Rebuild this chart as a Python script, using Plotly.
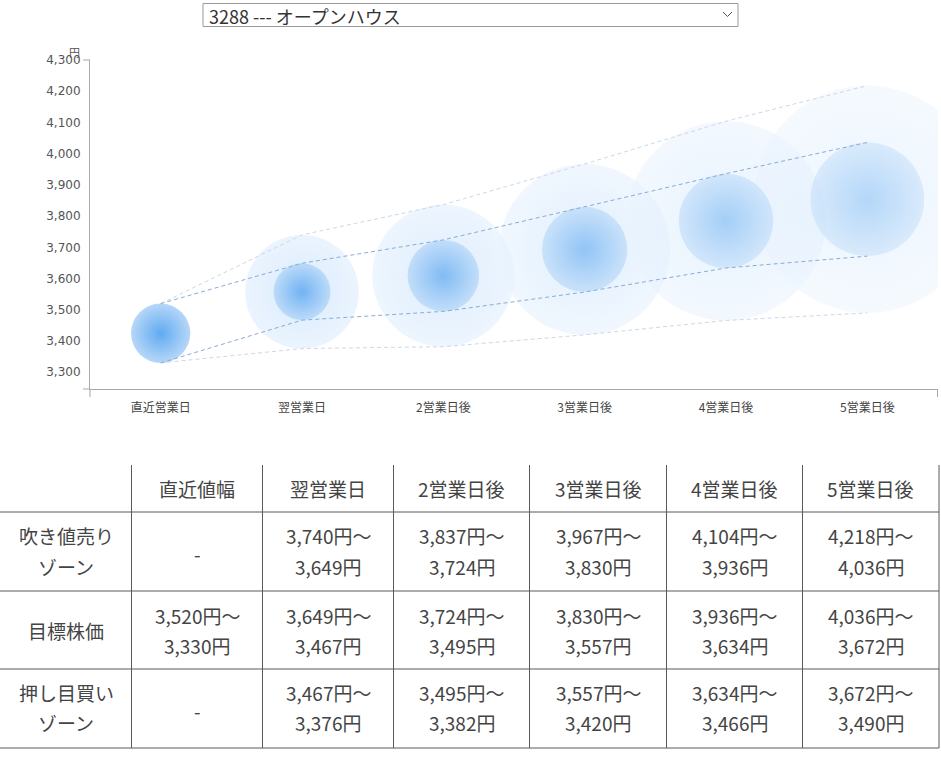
import plotly.graph_objects as go

# ---------------- data ----------------
days = ['直近営業日', '翌営業日', '2営業日後', '3営業日後', '4営業日後', '5営業日後']
table_headers = ['直近値幅', '翌営業日', '2営業日後', '3営業日後', '4営業日後', '5営業日後']
sell_hi = [None, 3740, 3837, 3967, 4104, 4218]
sell_lo = [None, 3649, 3724, 3830, 3936, 4036]
target_hi = [3520, 3649, 3724, 3830, 3936, 4036]
target_lo = [3330, 3467, 3495, 3557, 3634, 3672]
buy_hi = [None, 3467, 3495, 3557, 3634, 3672]
buy_lo = [None, 3376, 3382, 3420, 3466, 3490]
row_labels = [['吹き値売り', 'ゾーン'], ['目標株価'], ['押し目買い', 'ゾーン']]
y_ticks = [3300, 3400, 3500, 3600, 3700, 3800, 3900, 4000, 4100, 4200, 4300]
y_unit = '円'
stock_label = '3288 --- オープンハウス'

# ---------------- layout geometry ----------------
W, H = 941, 758
ML, MR, MT, MB = 90, 3, 60, 369
PW, PH = W - ML - MR, H - MT - MB
Y_MAX = 4300
Y_MIN = 3246.5
ppu = PH / (Y_MAX - Y_MIN)   # pixels per yen on the y scale


def px2x(px):
    return (px - ML) / PW


def py2y(py):
    return (H - MB - py) / PH


fig = go.Figure()

# outer bubbles (sell zone top to buy zone bottom)
ox = days[1:]
oy = [(h + l) / 2 for h, l in zip(sell_hi[1:], buy_lo[1:])]
osz = [(h - l) * ppu for h, l in zip(sell_hi[1:], buy_lo[1:])]
fig.add_trace(go.Scatter(
    x=ox, y=oy, mode='markers', hoverinfo='skip',
    marker=dict(size=osz, color='rgb(233,243,254)', line=dict(width=0),
                opacity=[0.9, 0.8, 0.68, 0.55, 0.45],
                gradient=dict(type='radial', color='rgb(212,232,252)')),
))

# inner bubbles (target range)
iy = [(h + l) / 2 for h, l in zip(target_hi, target_lo)]
isz = [(h - l) * ppu for h, l in zip(target_hi, target_lo)]
fig.add_trace(go.Scatter(
    x=days, y=iy, mode='markers', hoverinfo='skip',
    marker=dict(size=isz, color='rgb(182,215,248)', line=dict(width=0),
                opacity=[1.0, 0.86, 0.74, 0.62, 0.5, 0.4],
                gradient=dict(type='radial', color='rgb(96,170,241)')),
))

# dashed guide lines
outer_up = [target_hi[0]] + sell_hi[1:]
outer_dn = [target_lo[0]] + buy_lo[1:]
for ys in (outer_up, outer_dn):
    fig.add_trace(go.Scatter(x=days, y=ys, mode='lines', hoverinfo='skip',
                             line=dict(color='#ccd8e6', width=1, dash='4px,3px')))
for ys in (target_hi, target_lo):
    fig.add_trace(go.Scatter(x=days, y=ys, mode='lines', hoverinfo='skip',
                             line=dict(color='#88acd6', width=1, dash='4px,3px')))

shapes = []
annotations = []
axis_col = '#a8a8a8'

# axis overhang ticks
shapes += [
    dict(type='line', xref='paper', yref='paper', x0=px2x(83), x1=px2x(90), y0=py2y(389), y1=py2y(389),
         line=dict(color=axis_col, width=1)),
    dict(type='line', xref='paper', yref='paper', x0=px2x(90), x1=px2x(90), y0=py2y(389), y1=py2y(397),
         line=dict(color=axis_col, width=1)),
    dict(type='line', xref='paper', yref='paper', x0=px2x(83), x1=px2x(90), y0=py2y(60), y1=py2y(60),
         line=dict(color=axis_col, width=1)),
    dict(type='line', xref='paper', yref='paper', x0=px2x(937.5), x1=px2x(937.5), y0=py2y(389), y1=py2y(397),
         line=dict(color=axis_col, width=1)),
]

# y unit label
annotations.append(dict(text=y_unit, xref='paper', yref='paper', x=px2x(74), y=py2y(52),
                        xanchor='center', yanchor='middle', showarrow=False,
                        font=dict(size=11, color='#555', family='Noto Sans CJK JP')))

# dropdown (select box)
shapes.append(dict(type='rect', xref='paper', yref='paper', x0=px2x(203), x1=px2x(738),
                   y0=py2y(3.5), y1=py2y(26.5), line=dict(color='#9a9a9a', width=1), fillcolor='white'))
annotations.append(dict(text=stock_label, xref='paper', yref='paper', x=px2x(207), y=py2y(15.5),
                        xanchor='left', yanchor='middle', showarrow=False,
                        font=dict(size=18, color='#333', family='Noto Sans CJK JP')))
cx0, cy0 = px2x(723), py2y(12)
cx1, cy1 = px2x(727.5), py2y(16.5)
cx2, cy2 = px2x(732), py2y(12)
shapes.append(dict(type='path', xref='paper', yref='paper',
                   path=f'M {cx0} {cy0} L {cx1} {cy1} L {cx2} {cy2}',
                   line=dict(color='#555', width=1)))

# table grid
tcol = '#5a5a5a'
col_edges = [131.5, 262.5, 393.5, 529.5, 666.5, 802.5, 939]
row_edges = [512, 591, 669, 748]
for yy in row_edges:
    shapes.append(dict(type='line', xref='paper', yref='paper', x0=px2x(0), x1=px2x(939),
                       y0=py2y(yy), y1=py2y(yy), line=dict(color=tcol, width=1)))
for xx in col_edges:
    shapes.append(dict(type='line', xref='paper', yref='paper', x0=px2x(xx), x1=px2x(xx),
                       y0=py2y(465), y1=py2y(748), line=dict(color=tcol, width=1)))

col_centers = [66] + [(a + b) / 2 for a, b in zip(col_edges[:-1], col_edges[1:])]
tfont = dict(size=19, color='#444', family='Noto Sans CJK JP')


def cell(text, cx, cy):
    annotations.append(dict(text=text, xref='paper', yref='paper', x=px2x(cx), y=py2y(cy),
                            xanchor='center', yanchor='middle', showarrow=False, font=tfont))


def fmt(v):
    return f'{v:,}円'


for j, h in enumerate(table_headers):
    cell(h, col_centers[j + 1], 488)

row_line_y = [(535, 566.5, 553), (615, 645, 630), (692.5, 722.5, 710.5)]
row_data = [(sell_hi, sell_lo), (target_hi, target_lo), (buy_hi, buy_lo)]
for r, (labels, (hi, lo), (y1, y2, ym)) in enumerate(zip(row_labels, row_data, row_line_y)):
    if len(labels) == 2:
        cell(labels[0], col_centers[0], y1)
        cell(labels[1], col_centers[0], y2)
    else:
        cell(labels[0], col_centers[0], ym)
    for j in range(6):
        cx = col_centers[j + 1]
        if hi[j] is None:
            cell('-', cx, ym)
        else:
            cell(fmt(hi[j]) + '～', cx, y1)
            cell(fmt(lo[j]), cx, y2)

fig.update_layout(
    width=W, height=H,
    margin=dict(l=ML, r=MR, t=MT, b=MB, pad=0),
    paper_bgcolor='white', plot_bgcolor='white',
    showlegend=False,
    font=dict(family='Noto Sans CJK JP', color='#444'),
    xaxis=dict(type='category', categoryorder='array', categoryarray=days,
               range=[-0.5, 5.5], showgrid=False, zeroline=False,
               showline=True, linecolor=axis_col, linewidth=1, ticks='',
               ticklabelstandoff=8,
               tickfont=dict(size=12, color='#444', family='Noto Sans CJK JP'),
               fixedrange=True),
    yaxis=dict(range=[Y_MIN, Y_MAX], tickvals=y_ticks, tickformat=',', showgrid=False,
               zeroline=False, showline=True, linecolor=axis_col, linewidth=1, ticks='',
               ticklabelstandoff=6,
               tickfont=dict(size=12, color='#555', family='DejaVu Sans'),
               fixedrange=True),
    shapes=shapes,
    annotations=annotations,
)

fig.write_html('out.html', config={'displayModeBar': False},
               post_script="document.body.style.margin='0';document.body.style.overflow='hidden';")
